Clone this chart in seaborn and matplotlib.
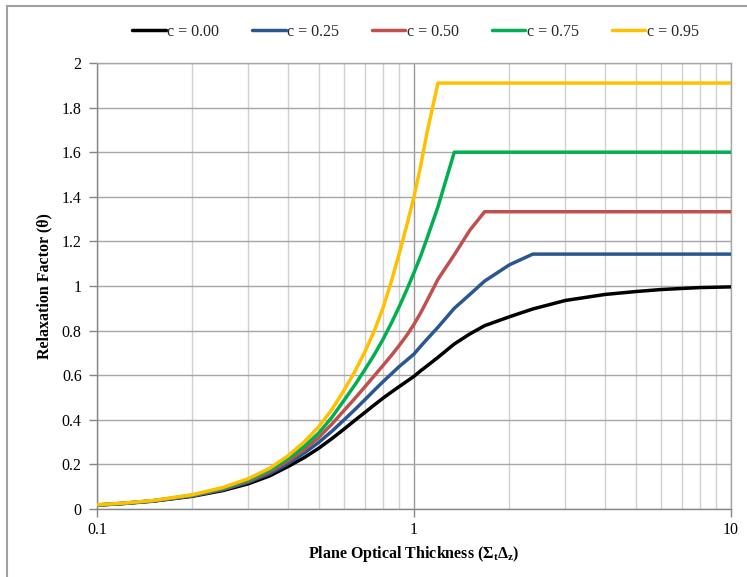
import matplotlib
matplotlib.use("Agg")
import matplotlib.pyplot as plt
from matplotlib.patches import Rectangle
from matplotlib.ticker import FixedLocator, FixedFormatter, LogLocator, NullFormatter
import pandas as pd
import seaborn as sns

# Plane optical thickness samples (log axis)
tau = [0.1, 0.12, 0.15, 0.2, 0.25, 0.3, 0.35, 0.4, 0.45, 0.5, 0.55, 0.6, 0.65, 0.7,
       0.75, 0.8, 0.85, 0.9, 0.95, 1.0, 1.05, 1.1, 1.19, 1.34, 1.5, 1.67, 2.0, 2.37,
       3.0, 4.0, 5.0, 6.0, 7.0, 8.0, 10.0]

# Relaxation factor for each scattering ratio c
theta_c000 = [0.017, 0.024, 0.035, 0.057, 0.083, 0.113, 0.148, 0.19, 0.23, 0.272,
              0.315, 0.357, 0.397, 0.433, 0.467, 0.498, 0.525, 0.55, 0.573, 0.595,
              0.62, 0.642, 0.68, 0.74, 0.785, 0.822, 0.862, 0.897,
              0.935, 0.962, 0.975, 0.984, 0.989, 0.993, 0.996]
theta_c025 = [0.018, 0.025, 0.036, 0.059, 0.087, 0.12, 0.158, 0.203, 0.25, 0.298,
              0.348, 0.398, 0.445, 0.49, 0.533, 0.572, 0.607, 0.64, 0.668, 0.695,
              0.73, 0.762, 0.815, 0.9, 0.962, 1.022, 1.095, 1.143,
              1.143, 1.143, 1.143, 1.143, 1.143, 1.143, 1.143]
theta_c050 = [0.018, 0.025, 0.037, 0.06, 0.09, 0.125, 0.167, 0.215, 0.265, 0.32,
              0.38, 0.44, 0.495, 0.548, 0.598, 0.645, 0.69, 0.735, 0.78, 0.828,
              0.88, 0.935, 1.03, 1.14, 1.25, 1.333, 1.333, 1.333,
              1.333, 1.333, 1.333, 1.333, 1.333, 1.333, 1.333]
theta_c075 = [0.018, 0.025, 0.037, 0.062, 0.093, 0.13, 0.174, 0.225, 0.28, 0.34,
              0.41, 0.485, 0.555, 0.625, 0.693, 0.763, 0.836, 0.91, 0.985, 1.06,
              1.135, 1.215, 1.355, 1.6, 1.6, 1.6, 1.6, 1.6,
              1.6, 1.6, 1.6, 1.6, 1.6, 1.6, 1.6]
theta_c095 = [0.019, 0.026, 0.038, 0.064, 0.097, 0.136, 0.182, 0.238, 0.3, 0.368,
              0.445, 0.53, 0.615, 0.705, 0.8, 0.905, 1.025, 1.15, 1.275, 1.4,
              1.54, 1.69, 1.91, 1.91, 1.91, 1.91, 1.91, 1.91,
              1.91, 1.91, 1.91, 1.91, 1.91, 1.91, 1.91]

series_labels = ["c = 0.00", "c = 0.25", "c = 0.50", "c = 0.75", "c = 0.95"]
series_values = [theta_c000, theta_c025, theta_c050, theta_c075, theta_c095]
series_colors = ["#000000", "#2B5790", "#C0504D", "#00B050", "#FFC000"]

y_ticks = [0, 0.2, 0.4, 0.6, 0.8, 1.0, 1.2, 1.4, 1.6, 1.8, 2.0]
y_tick_labels = ["0", "0.2", "0.4", "0.6", "0.8", "1", "1.2", "1.4", "1.6", "1.8", "2"]
x_ticks = [0.1, 1, 10]
x_tick_labels = ["0.1", "1", "10"]

frames = [pd.DataFrame({"tau": tau, "theta": vals, "series": lab})
          for lab, vals in zip(series_labels, series_values)]
df = pd.concat(frames, ignore_index=True)

sns.set_style("white")
plt.rcParams["font.family"] = ["Liberation Serif", "DejaVu Serif"]
plt.rcParams["mathtext.fontset"] = "custom"
plt.rcParams["mathtext.rm"] = "Liberation Serif:bold"
plt.rcParams["mathtext.it"] = "Liberation Serif:bold"
plt.rcParams["mathtext.bf"] = "Liberation Serif:bold"

W, H = 747, 577
fig = plt.figure(figsize=(W / 100, H / 100), dpi=100)
ax = fig.add_axes([97 / W, (H - 509) / H, 634 / W, 446 / H])

sns.lineplot(data=df, x="tau", y="theta", hue="series", hue_order=series_labels,
             palette=series_colors, linewidth=2.5, estimator=None, sort=False,
             legend=False, ax=ax, zorder=3)

ax.set_xscale("log")
ax.set_xlim(0.1, 10)
ax.set_ylim(0, 2)

ax.xaxis.set_major_locator(FixedLocator(x_ticks))
ax.xaxis.set_major_formatter(FixedFormatter(x_tick_labels))
ax.xaxis.set_minor_locator(LogLocator(base=10, subs=[2, 3, 4, 5, 6, 7, 8, 9]))
ax.xaxis.set_minor_formatter(NullFormatter())
ax.yaxis.set_major_locator(FixedLocator(y_ticks))
ax.yaxis.set_major_formatter(FixedFormatter(y_tick_labels))

grid_major = "#A6A6A6"
ax.grid(which="major", axis="y", color=grid_major, linewidth=1.0, zorder=0)
ax.grid(which="major", axis="x", color="#9A9A9A", linewidth=1.0, zorder=0)
ax.grid(which="minor", axis="x", color="#D0D0D0", linewidth=1.0, zorder=0)
ax.set_axisbelow(True)

for side in ["left", "bottom"]:
    ax.spines[side].set_color("#868686")
    ax.spines[side].set_linewidth(1.0)
for side in ["top", "right"]:
    ax.spines[side].set_color(grid_major)
    ax.spines[side].set_linewidth(1.0)

ax.tick_params(axis="both", which="major", direction="out", length=6, width=1,
               color="#868686", labelsize=11.5, labelcolor="#000000")
ax.tick_params(axis="y", which="major", pad=5, left=True)
ax.tick_params(axis="x", which="major", pad=3, bottom=True)
ax.tick_params(axis="x", which="minor", length=0)

ax.set_xlabel(r"Plane Optical Thickness ($\Sigma_\mathrm{t}\Delta_\mathrm{z}$)",
              fontsize=11.5, fontweight="bold", color="#000000")
ax.set_ylabel("Relaxation Factor (θ)", fontsize=11.5, fontweight="bold", color="#000000")
ax.xaxis.set_label_coords(0.5, (509 - 554) / 446)
ax.xaxis.label.set_verticalalignment("center")
ax.yaxis.set_label_coords((44 - 97) / 634, 0.5)
ax.yaxis.label.set_verticalalignment("center")

handles = ax.get_lines()[:len(series_labels)]
leg = fig.legend(handles, series_labels, loc="center",
                 bbox_to_anchor=(415.5 / W, 1 - 32 / H), bbox_transform=fig.transFigure,
                 ncol=5, frameon=False, fontsize=11.5, handlelength=2.1,
                 handletextpad=0.1, columnspacing=2.05, borderaxespad=0)

# chart-area border
fig.patches.append(Rectangle((7.3 / W, -0.05), 2.0, 1.0 + 0.05 - 5.7 / H,
                             transform=fig.transFigure, fill=False,
                             edgecolor="#A0A0A0", linewidth=1.5, zorder=0))

fig.savefig("out.png", dpi=100)
